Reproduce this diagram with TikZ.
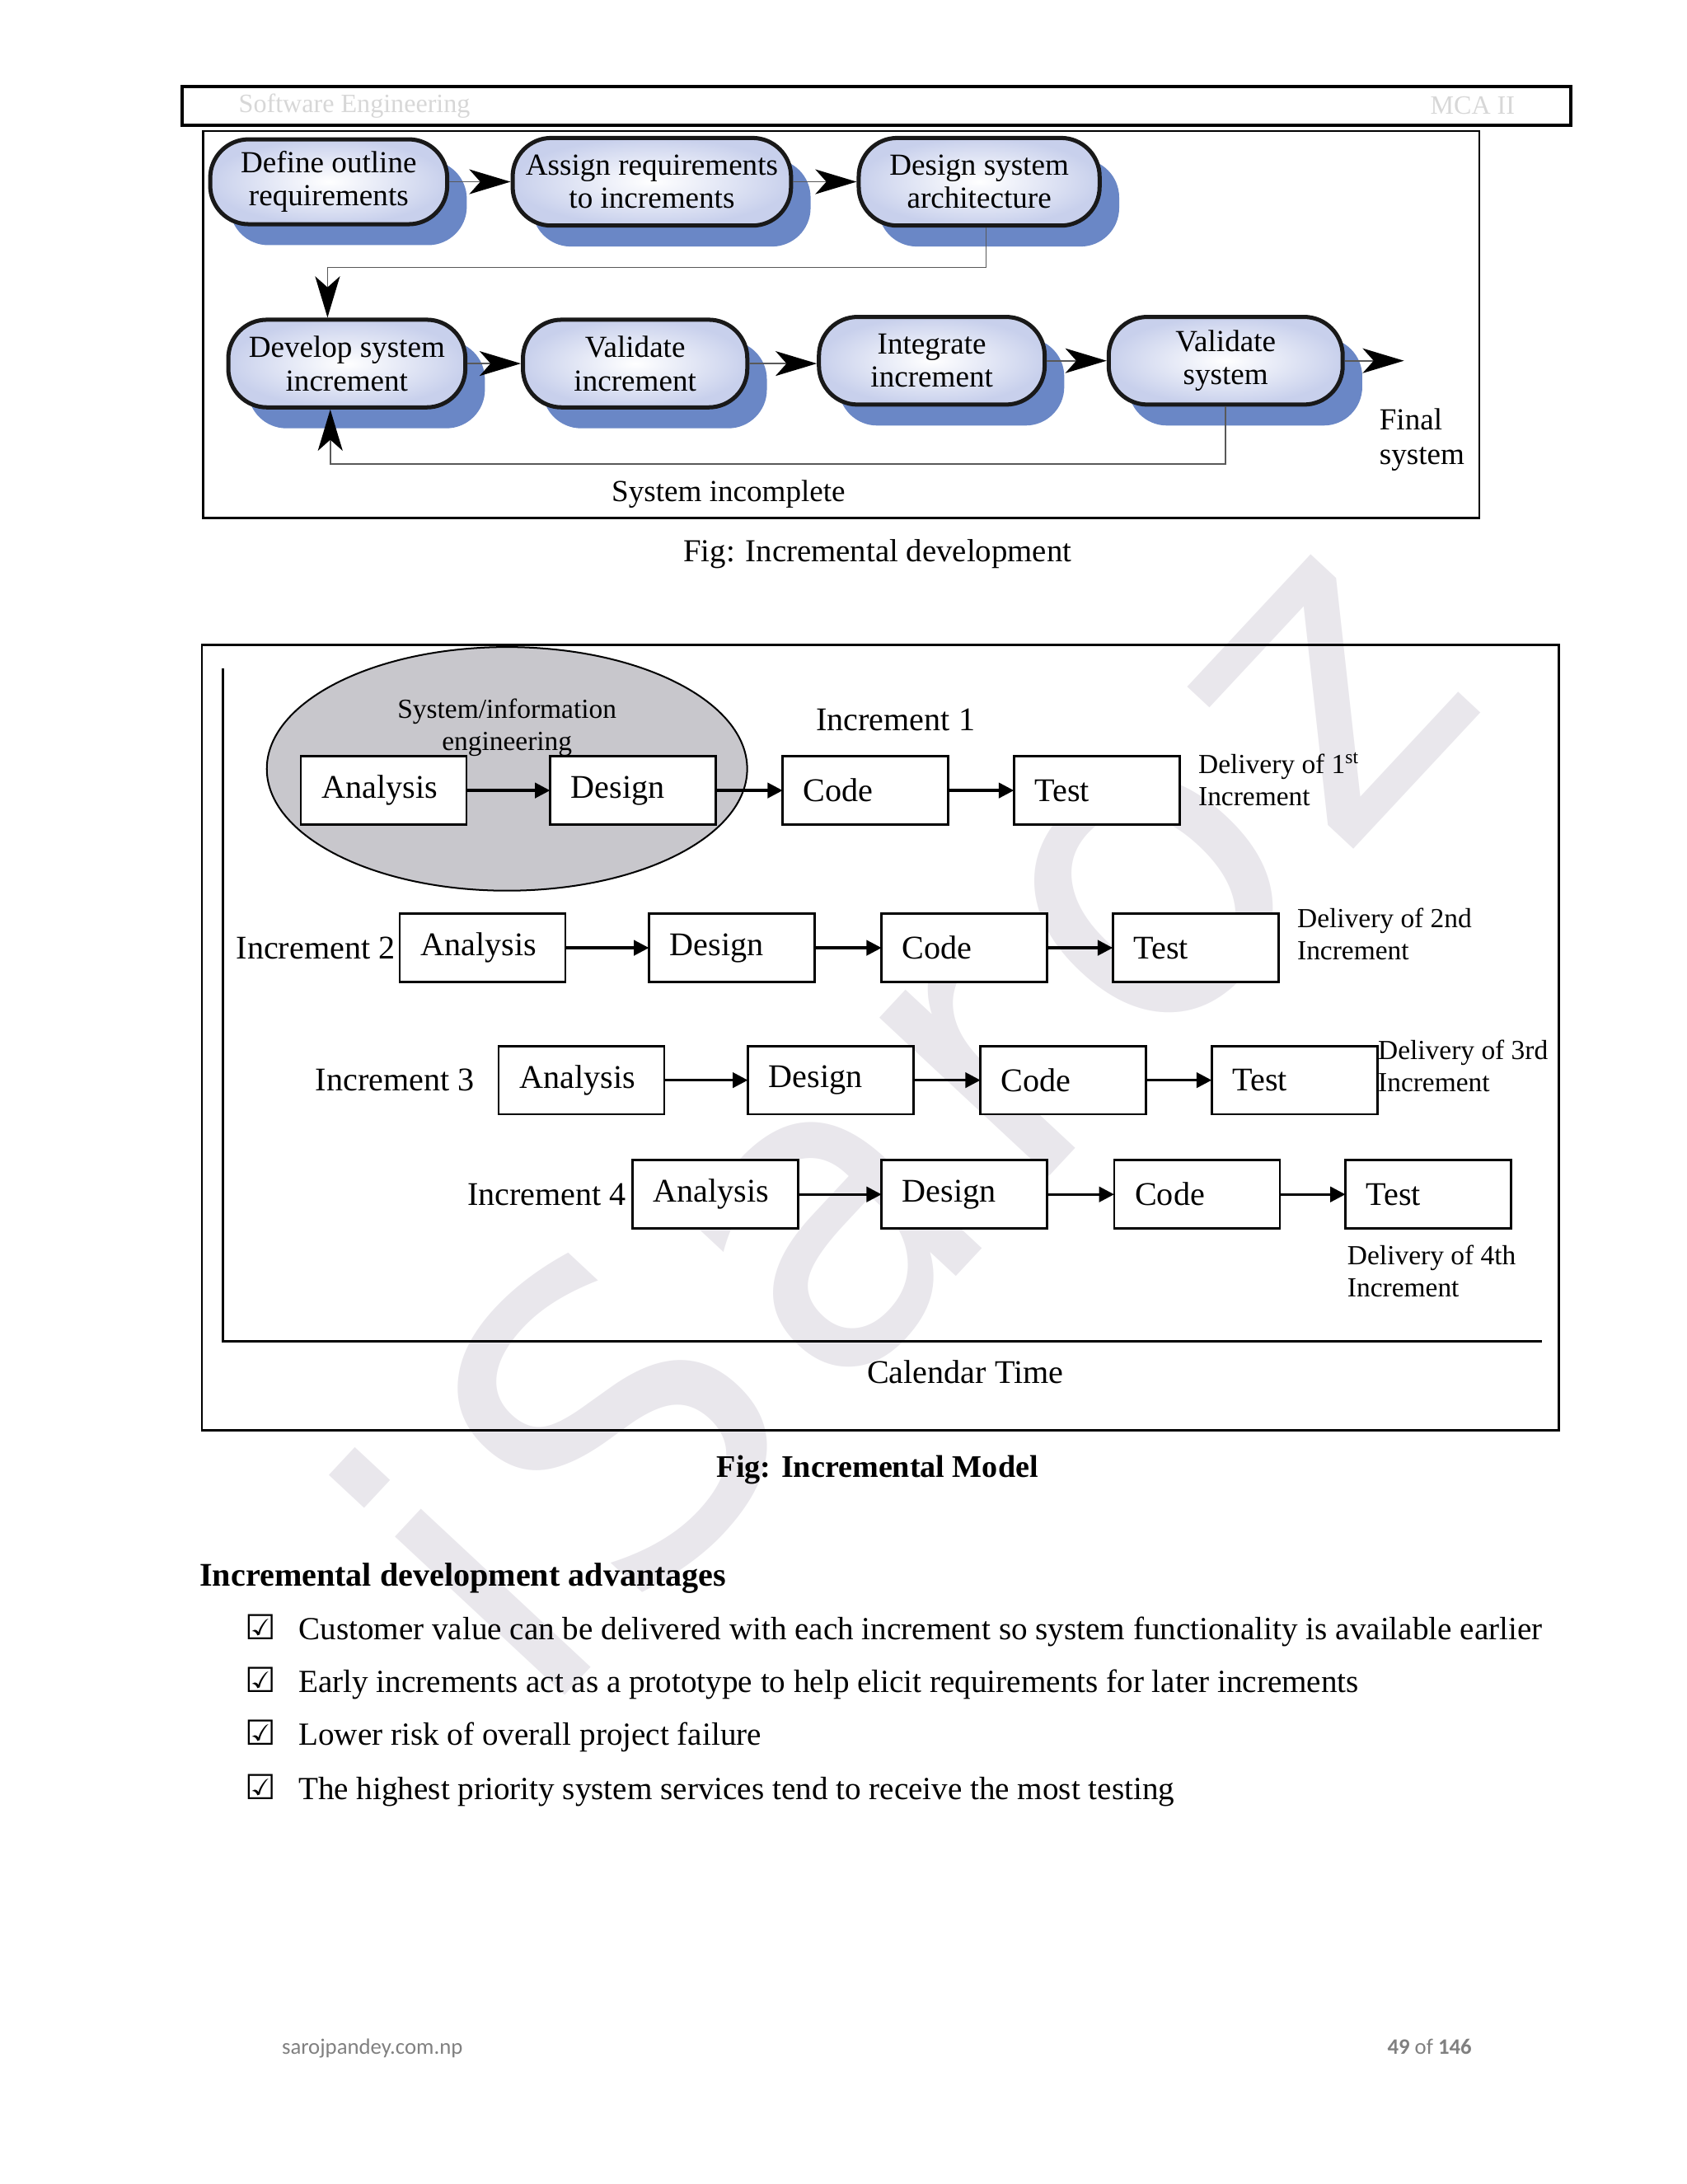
\documentclass[tikz,border=0pt]{standalone}
\usepackage{fontspec}
\setmainfont{Liberation Serif}
\newfontfamily\calibrifont{Carlito}
\newfontfamily\symbolfont{DejaVu Sans}
\newfontfamily\markfont[LetterSpace=5]{DejaVu Sans}
\usetikzlibrary{positioning,shapes.geometric,arrows.meta,shadows}

\definecolor{stageblue}{RGB}{200,208,236}
\definecolor{shadowblue}{RGB}{106,135,198}
\definecolor{sysgray}{RGB}{200,199,204}
\definecolor{wmgray}{RGB}{233,231,236}
\definecolor{headgray}{RGB}{215,215,215}
\definecolor{footgray}{RGB}{128,128,128}

\begin{document}
\begin{tikzpicture}[x=0.50537pt,y=-0.50537pt,
    stage/.style={draw=black!90,line width=1.5pt,rounded corners=14pt,inner color=white,outer color=stageblue,
        drop shadow={shadow xshift=7.1pt,shadow yshift=-7.6pt,fill=shadowblue,opacity=1},
        align=center,inner sep=0pt,font=\fontsize{11.1}{12.1}\selectfont},
    flow/.style={draw=black!65,line width=0.5pt,-{Stealth[length=15pt,width=9pt,inset=4pt,color=black]}},
    phase/.style={draw,line width=0.8pt,fill=white,minimum height=24.8pt,text width=45pt,inner xsep=7.55pt,
        inner ysep=0pt,outer sep=0pt,align=left,font=\fontsize{12}{12}\selectfont},
    proceed/.style={line width=1pt,-{Triangle[length=5.5pt,width=5.5pt]}},
    plain/.style={inner sep=0pt,font=\fontsize{12}{12}\selectfont},
    note/.style={inner sep=0pt,align=left,font=\fontsize{10}{11.6}\selectfont},
    body/.style={anchor=base west,inner sep=0pt,font=\fontsize{11.7}{12}\selectfont}]

    \useasboundingbox (0,0) rectangle (1211,1568);

    % watermark
    \node[rotate=47,text=wmgray,inner sep=0pt,font=\markfont\fontsize{154}{154}\selectfont] (mark) at (646,793) {iSaroz};

    % page header
    \draw[line width=1.2pt] (131,62) rectangle (1128,90);
    \node[anchor=west,inner sep=0pt,text=headgray,font=\fontsize{9.6}{10}\selectfont] (subject) at (171,76) {Software Engineering};
    \node[anchor=east,inner sep=0pt,text=headgray,font=\fontsize{9.6}{10}\selectfont] (course) at (1088,76) {MCA II};

    % incremental development
    \draw[line width=0.8pt] (146,94) rectangle (1062,372);

    \node[stage,minimum width=86pt,minimum height=30.8pt] (outline) at (236,130.5) {Define outline\\requirements};
    \node[stage,minimum width=101pt,minimum height=31.8pt] (assign) at (468,130.5) {Assign requirements\\to increments};
    \node[stage,minimum width=87.4pt,minimum height=31.8pt] (archi) at (703,130.5) {Design system\\architecture};

    \node[stage,minimum width=86pt,minimum height=31.8pt] (develop) at (249,261) {Develop system\\increment};
    \node[stage,minimum width=81.4pt,minimum height=31.8pt] (valinc) at (456,261) {Validate\\increment};
    \node[stage,minimum width=81.9pt,minimum height=31.8pt] (integ) at (669,259) {Integrate\\increment};
    \node[stage,minimum width=84.9pt,minimum height=31.8pt] (valsys) at (880,259) {Validate\\system};

    \coordinate (turn) at (450,192);
    \coordinate (loop) at (500,333);
    \coordinate (done) at (1008,259);

    \draw[flow] (outline) -- (assign);
    \draw[flow] (assign) -- (archi);
    \draw[flow] ([xshift=2.5pt]archi.south) |- (turn) -| ([xshift=-7pt]develop.north);
    \draw[flow] (develop) -- (valinc);
    \draw[flow] (valinc.east) -- (valinc.east -| integ.west);
    \draw[flow] (integ) -- (valsys);
    \draw[flow] (valsys) -- (done);
    \draw[flow] (valsys.south) |- (loop) -| ([xshift=-6pt]develop.south);

    \node[font=\fontsize{11.1}{12}\selectfont,inner sep=0pt] (incomplete) at (523,355) {System incomplete};
    \node[anchor=north west,align=left,inner sep=0pt,font=\fontsize{11.1}{12.6}\selectfont] (final) at (990,293) {Final\\system};

    \node[inner sep=0pt,font=\fontsize{11.6}{12}\selectfont] (caption1) at (630,398) {Fig: Incremental development};

    % incremental model
    \draw[line width=0.8pt] (145,463) rectangle (1119,1027);
    \coordinate (ytop) at (160,480);
    \coordinate (xend) at (1107,963);
    \draw[line width=0.8pt] (ytop) |- (xend);

    \node[draw,ellipse,fill=sysgray,line width=0.6pt,minimum width=174.3pt,minimum height=88.4pt] (sie) at (364,552) {};
    \node[note,align=center] (sielabel) at (364,522.5) {System/information\\engineering};

    \node[phase] (an1) at (275.5,567.5) {Analysis};
    \node[phase,right=30.3pt of an1] (de1) {Design};
    \node[phase,right=24.3pt of de1] (co1) {Code};
    \node[phase,right=23.8pt of co1] (te1) {Test};

    \node[phase] (an2) at (346.5,680.5) {Analysis};
    \node[phase,right=30.3pt of an2] (de2) {Design};
    \node[phase,right=24.3pt of de2] (co2) {Code};
    \node[phase,right=23.8pt of co2] (te2) {Test};

    \node[phase] (an3) at (417.5,775.5) {Analysis};
    \node[phase,right=30.3pt of an3] (de3) {Design};
    \node[phase,right=24.3pt of de3] (co3) {Code};
    \node[phase,right=23.8pt of co3] (te3) {Test};

    \node[phase] (an4) at (513.5,857.5) {Analysis};
    \node[phase,right=30.3pt of an4] (de4) {Design};
    \node[phase,right=24.3pt of de4] (co4) {Code};
    \node[phase,right=23.8pt of co4] (te4) {Test};

    \draw[proceed] (an1) -- (de1);
    \draw[proceed] (de1) -- (co1);
    \draw[proceed] (co1) -- (te1);
    \draw[proceed] (an2) -- (de2);
    \draw[proceed] (de2) -- (co2);
    \draw[proceed] (co2) -- (te2);
    \draw[proceed] (an3) -- (de3);
    \draw[proceed] (de3) -- (co3);
    \draw[proceed] (co3) -- (te3);
    \draw[proceed] (an4) -- (de4);
    \draw[proceed] (de4) -- (co4);
    \draw[proceed] (co4) -- (te4);

    \node[plain] (inc1) at (643,517) {Increment 1};
    \node[plain,left=1.5pt of an2] (inc2) {Increment 2};
    \node[plain,left=8.6pt of an3] (inc3) {Increment 3};
    \node[plain,left=2pt of an4] (inc4) {Increment 4};

    \node[note,anchor=west] (del1) at (860,559.5) {Delivery of 1\textsuperscript{st}\\Increment};
    \node[note,anchor=west] (del2) at (931,670.5) {Delivery of 2nd\\Increment};
    \node[note,anchor=west] (del3) at (989,765.5) {Delivery of 3rd\\Increment};
    \node[note,anchor=west] (del4) at (967,912.5) {Delivery of 4th\\Increment};

    \node[plain] (calendar) at (693,985) {Calendar Time};

    \node[inner sep=0pt,font=\bfseries\fontsize{11.4}{12}\selectfont] (caption2) at (630,1055) {Fig: Incremental Model};

    % advantages
    \node[body,font=\bfseries\fontsize{12}{12}\selectfont] (advhead) at (143,1139) {Incremental development advantages};

    \node[anchor=base,inner sep=0pt,font=\symbolfont\fontsize{12.5}{12}\selectfont] (tick1) at (187,1177) {☑};
    \node[anchor=base,inner sep=0pt,font=\symbolfont\fontsize{12.5}{12}\selectfont] (tick2) at (187,1215) {☑};
    \node[anchor=base,inner sep=0pt,font=\symbolfont\fontsize{12.5}{12}\selectfont] (tick3) at (187,1253) {☑};
    \node[anchor=base,inner sep=0pt,font=\symbolfont\fontsize{12.5}{12}\selectfont] (tick4) at (187,1292) {☑};

    \node[body] (adv1) at (214,1177) {Customer value can be delivered with each increment so system functionality is available earlier};
    \node[body] (adv2) at (214,1215) {Early increments act as a prototype to help elicit requirements for later increments};
    \node[body] (adv3) at (214,1253) {Lower risk of overall project failure};
    \node[body] (adv4) at (214,1292) {The highest priority system services tend to receive the most testing};

    % page footer
    \node[anchor=base west,inner sep=0pt,text=footgray,font=\calibrifont\fontsize{8}{9}\selectfont] (site) at (202,1475) {sarojpandey.com.np};
    \node[anchor=base east,inner sep=0pt,text=footgray,font=\calibrifont\fontsize{8}{9}\selectfont] (pageno) at (1057,1475) {\textbf{49} of \textbf{146}};

\end{tikzpicture}
\end{document}
